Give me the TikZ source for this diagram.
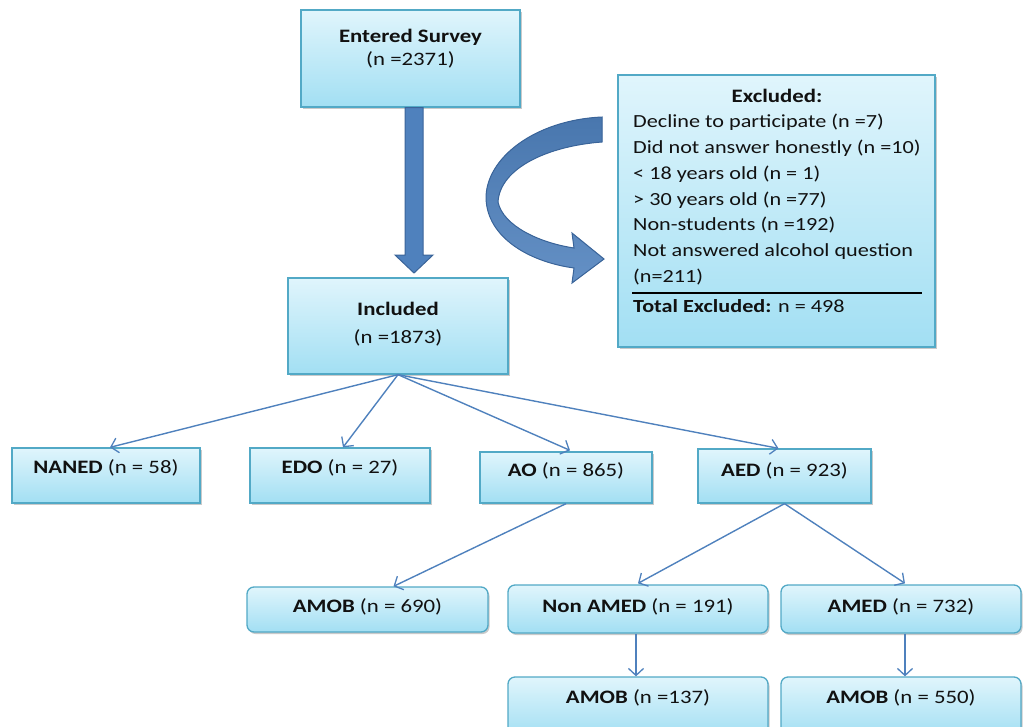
\documentclass[tikz,border=0pt]{standalone}
\usepackage{fontspec}
\setmainfont{Carlito}[FakeStretch=1.2]
\usetikzlibrary{arrows.meta,shadows,calc}
\definecolor{boxline}{HTML}{52A9C6}
\definecolor{boxtop}{HTML}{E0F5FC}
\definecolor{boxbot}{HTML}{A2DFF3}
\definecolor{arrowblue}{HTML}{4F81BD}
\definecolor{arrowdark}{HTML}{3A6499}
\definecolor{txt}{HTML}{111111}
\begin{document}
\begin{tikzpicture}[x=1pt,y=-1pt,
  box/.style={draw=boxline,line width=1.3pt,top color=boxtop,bottom color=boxbot,
    inner sep=0pt,
    drop shadow={shadow xshift=1.5pt,shadow yshift=-2pt,opacity=0.35,fill=black!60}},
  rbox/.style={box,rounded corners=7pt},
  lbl/.style={text=txt,font=\fontsize{19}{23}\selectfont,inner sep=0pt},
  link/.style={draw=arrowblue,line width=1.4pt,-{Straight Barb[length=7pt,width=15pt,line width=1.3pt]}},
  bigarrow/.style={fill=arrowblue,draw=arrowdark,line width=1pt}]
\useasboundingbox (0,0) rectangle (1023,726);
% boxes
\node[box,minimum width=219pt,minimum height=97pt] (entered) at (410.5,58.5) {};
\node[box,minimum width=317pt,minimum height=272pt] (excl) at (776.5,211) {};
\node[box,minimum width=220pt,minimum height=96pt] (incl) at (398,326) {};
\node[box,minimum width=188pt,minimum height=55pt] (naned) at (106,475.5) {};
\node[box,minimum width=180pt,minimum height=55pt] (edo) at (340,475.5) {};
\node[box,minimum width=172pt,minimum height=51pt] (ao) at (566,477.5) {};
\node[box,minimum width=173pt,minimum height=54pt] (aed) at (784.5,476) {};
\node[rbox,minimum width=241pt,minimum height=45pt] (amob1) at (367.5,609.5) {};
\node[rbox,minimum width=260pt,minimum height=48pt] (nonamed) at (638,609) {};
\node[rbox,minimum width=240pt,minimum height=48pt] (amed) at (901,609) {};
\node[rbox,minimum width=260pt,minimum height=60pt] (amob2) at (638,707) {};
\node[rbox,minimum width=240pt,minimum height=60pt] (amob3) at (901,707) {};
% texts
\node[lbl,align=center] (t-entered) at (410.5,48.5) {\textbf{Entered Survey}\\(n =2371)};
\node[lbl,align=center,font=\fontsize{19}{28}\selectfont] (t-incl) at (398,324) {\textbf{Included}\\(n =1873)};
\node[lbl] (t-excl) at (777,96) {\textbf{Excluded:}};
\node[lbl,align=left,anchor=north west,font=\fontsize{18.5}{25.8}\selectfont] (t-list) at (633,114)
  {Decline to participate (n =7)\\
   Did not answer honestly (n =10)\\
   < 18 years old (n = 1)\\
   > 30 years old (n =77)\\
   Non-students (n =192)\\
   Not answered alcohol question\\
   (n=211)};
\coordinate (r1) at (632,293);
\coordinate (r2) at (922,293);
\draw[line width=1.3pt,black] (r1) -- (r2);
\node[lbl,anchor=west,font=\fontsize{18.5}{22}\selectfont] (t-total) at (633,306) {\textbf{Total Excluded:} n = 498};
\node[lbl] (t-naned) at (106,468) {\textbf{NANED} (n = 58)};
\node[lbl] (t-edo) at (340,468) {\textbf{EDO} (n = 27)};
\node[lbl] (t-ao) at (566,471) {\textbf{AO} (n = 865)};
\node[lbl] (t-aed) at (784.5,471) {\textbf{AED} (n = 923)};
\node[lbl] (t-amob1) at (367.5,607) {\textbf{AMOB} (n = 690)};
\node[lbl] (t-nonamed) at (638,607) {\textbf{Non AMED} (n = 191)};
\node[lbl] (t-amed) at (901,607) {\textbf{AMED} (n = 732)};
\node[lbl] (t-amob2) at (638,698) {\textbf{AMOB} (n =137)};
\node[lbl] (t-amob3) at (901,698) {\textbf{AMOB} (n = 550)};
% big down arrow
\path[bigarrow] (entered.south -| 405,0) -- (405,255) -- (395,255) -- (414,273) -- (433,255) -- (423,255) -- (entered.south -| 423,0) -- cycle;
% curved arrow
\path[bigarrow,top color=arrowblue!92!black,bottom color=arrowblue!88!white]
  (602,117) .. controls (535,120) and (486,158) .. (486,198)
  .. controls (487,238) and (530,262) .. (574,268)
  -- (572,283) -- (604,259) -- (572,233) -- (574,248)
  .. controls (540,243) and (503,226) .. (498,202)
  .. controls (500,168) and (548,146) .. (602,142) -- cycle;
% connectors
\draw[link] (incl.south) -- ($(naned.north)+(4,0)$);
\draw[link] (incl.south) -- ($(edo.north)+(3,0)$);
\draw[link] (incl.south) -- ($(ao.north)+(4,-1)$);
\draw[link] (incl.south) -- ($(aed.north)+(-6,0)$);
\draw[link] (ao.south) -- ($(amob1.north)+(26,0)$);
\draw[link] (aed.south) -- ($(nonamed.north)+(0,-1)$);
\draw[link] (aed.south) -- ($(amed.north)+(4,-1)$);
\draw[link] ($(nonamed.south)+(-2,0)$) -- ($(amob2.north)+(-2,0)$);
\draw[link] ($(amed.south)+(4,0)$) -- ($(amob3.north)+(4,0)$);
\end{tikzpicture}
\end{document}
